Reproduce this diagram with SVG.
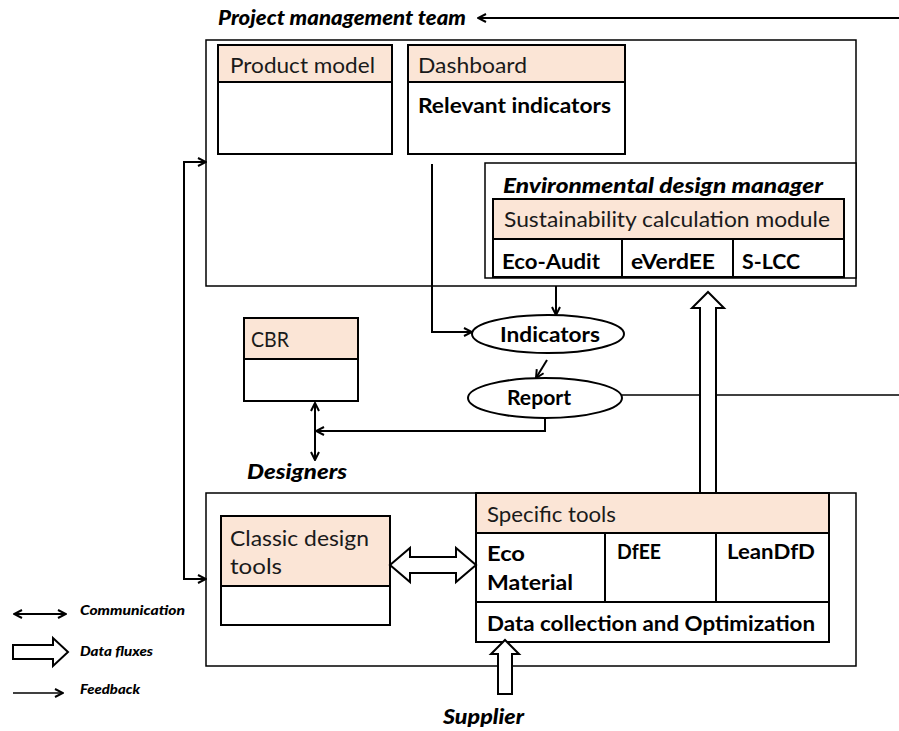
<svg xmlns="http://www.w3.org/2000/svg" width="899" height="731" viewBox="0 0 899 731">
  <style>
    .frame { fill: #ffffff; stroke: #000; stroke-width: 1.5; }
    .box { fill: #ffffff; stroke: #000; stroke-width: 2; }
    .head { fill: #fbe5d6; stroke: #000; stroke-width: 2; }
    .cell { fill: none; stroke: #000; stroke-width: 2; }
    .t { font-family: Lato, "Liberation Sans", sans-serif; font-size: 21px; fill: #1a1a1a; }
    .b { font-family: Lato, "Liberation Sans", sans-serif; font-size: 21px; font-weight: bold; fill: #000; }
    .bi { font-family: Lato, "Liberation Sans", sans-serif; font-size: 21px; font-weight: 900; font-style: italic; fill: #000; }
    .leg { font-family: Lato, "Liberation Sans", sans-serif; font-size: 13px; font-weight: 900; font-style: italic; fill: #000; }
    .line { fill: none; stroke: #000; stroke-width: 2; }
    .thin { fill: none; stroke: #000; stroke-width: 1.5; }
    .flux { fill: #ffffff; stroke: #000; stroke-width: 2; stroke-linejoin: miter; }
  </style>
  <defs>
    <marker id="open" viewBox="0 0 10 10" refX="9" refY="5" markerWidth="10" markerHeight="10" markerUnits="userSpaceOnUse" orient="auto-start-reverse">
      <path d="M1,1 L9,5 L1,9" fill="none" stroke="#000" stroke-width="2"/>
    </marker>
  </defs>

  <!-- Project management team -->
  <g id="pmt">
    <text class="bi" x="218" y="25" textLength="248" lengthAdjust="spacingAndGlyphs">Project management team</text>
    <rect class="frame" x="206" y="40" width="650" height="246"/>
  </g>

  <g id="product-model">
    <rect class="box" x="218" y="45" width="174" height="109"/>
    <rect class="head" x="218" y="45" width="174" height="37"/>
    <text class="t" x="230" y="73" textLength="145" lengthAdjust="spacingAndGlyphs">Product model</text>
  </g>

  <g id="dashboard">
    <rect class="box" x="408" y="45" width="217" height="109"/>
    <rect class="head" x="408" y="45" width="217" height="37"/>
    <text class="t" x="418" y="73" textLength="109" lengthAdjust="spacingAndGlyphs">Dashboard</text>
    <text class="b" x="418" y="113" textLength="193" lengthAdjust="spacingAndGlyphs">Relevant indicators</text>
  </g>

  <g id="env-manager">
    <rect class="frame" x="485" y="163" width="371" height="115"/>
    <text class="bi" x="503" y="193" font-size="20" textLength="320" lengthAdjust="spacingAndGlyphs">Environmental design manager</text>
  </g>

  <g id="sustainability-module">
    <rect class="box" x="493" y="199" width="351" height="78"/>
    <rect class="head" x="493" y="199" width="351" height="40"/>
    <line class="cell" x1="622" y1="239" x2="622" y2="277"/>
    <line class="cell" x1="733" y1="239" x2="733" y2="277"/>
    <text class="t" x="504" y="227" textLength="326" lengthAdjust="spacingAndGlyphs">Sustainability calculation module</text>
    <text class="b" x="502" y="269" textLength="98" lengthAdjust="spacingAndGlyphs">Eco-Audit</text>
    <text class="b" x="631" y="269" textLength="84" lengthAdjust="spacingAndGlyphs">eVerdEE</text>
    <text class="b" x="742" y="269" textLength="58" lengthAdjust="spacingAndGlyphs">S-LCC</text>
  </g>

  <g id="indicators">
    <ellipse class="box" cx="548" cy="334" rx="76" ry="19"/>
    <text class="b" x="550" y="342" text-anchor="middle" textLength="100" lengthAdjust="spacingAndGlyphs">Indicators</text>
  </g>

  <g id="report">
    <ellipse class="box" cx="545" cy="398" rx="77" ry="20"/>
    <text class="b" x="539" y="405" text-anchor="middle" textLength="64" lengthAdjust="spacingAndGlyphs">Report</text>
  </g>

  <g id="cbr">
    <rect class="box" x="244" y="318" width="114" height="83"/>
    <rect class="head" x="244" y="318" width="114" height="41"/>
    <text class="t" x="251" y="347" textLength="38" lengthAdjust="spacingAndGlyphs">CBR</text>
  </g>

  <!-- Designers -->
  <g id="designers">
    <text class="bi" x="247" y="479" textLength="100" lengthAdjust="spacingAndGlyphs">Designers</text>
    <rect class="frame" x="206" y="493" width="650" height="173"/>
  </g>

  <g id="classic-tools">
    <rect class="box" x="221" y="516" width="169" height="109"/>
    <rect class="head" x="221" y="516" width="169" height="70"/>
    <text class="t" x="230" y="546" textLength="139" lengthAdjust="spacingAndGlyphs">Classic design</text>
    <text class="t" x="230" y="574" textLength="52" lengthAdjust="spacingAndGlyphs">tools</text>
  </g>

  <g id="specific-tools">
    <rect class="box" x="476" y="493" width="353" height="149"/>
    <rect class="head" x="476" y="493" width="353" height="40"/>
    <line class="cell" x1="476" y1="602" x2="829" y2="602"/>
    <line class="cell" x1="605" y1="533" x2="605" y2="602"/>
    <line class="cell" x1="716" y1="533" x2="716" y2="602"/>
    <text class="t" x="487" y="522" textLength="129" lengthAdjust="spacingAndGlyphs">Specific tools</text>
    <text class="b" x="487" y="561" textLength="38" lengthAdjust="spacingAndGlyphs">Eco</text>
    <text class="b" x="487" y="590" textLength="86" lengthAdjust="spacingAndGlyphs">Material</text>
    <text class="b" x="617" y="559" textLength="44" lengthAdjust="spacingAndGlyphs">DfEE</text>
    <text class="b" x="727" y="559" textLength="88" lengthAdjust="spacingAndGlyphs">LeanDfD</text>
    <text class="b" x="487" y="631" textLength="328" lengthAdjust="spacingAndGlyphs">Data collection and Optimization</text>
  </g>

  <g id="supplier">
    <text class="bi" x="443" y="724" textLength="81" lengthAdjust="spacingAndGlyphs">Supplier</text>
  </g>

  <!-- Connectors -->
  <g id="connectors">
    <!-- feedback into the project management team -->
    <line class="line" x1="899" y1="18" x2="478" y2="18" marker-end="url(#open)"/>
    <!-- communication between the two teams -->
    <polyline class="line" points="206,162 184,162 184,579 206,579" marker-start="url(#open)" marker-end="url(#open)"/>
    <!-- dashboard to indicators -->
    <polyline class="line" points="432,164 432,332 472,332" marker-end="url(#open)"/>
    <!-- team frame to indicators -->
    <line class="line" x1="556" y1="286" x2="556" y2="315" marker-end="url(#open)"/>
    <!-- indicators to report -->
    <line class="line" x1="547" y1="360" x2="536" y2="378" marker-end="url(#open)"/>
    <!-- report feedback to the right -->
    <line class="thin" x1="622" y1="395" x2="899" y2="395"/>
    <!-- report to designers -->
    <polyline class="line" points="545,418 545,431 316,431" marker-end="url(#open)"/>
    <!-- CBR to designers -->
    <line class="line" x1="315" y1="403" x2="315" y2="460" marker-start="url(#open)" marker-end="url(#open)"/>
    <!-- data flux: specific tools up to environmental design manager -->
    <path class="flux" d="M700,492 L700,308 L692,308 L708,292 L724,308 L716,308 L716,492"/>
    <!-- data flux: classic tools <-> specific tools -->
    <path class="flux" d="M390,565 L410,548 L410,557 L456,557 L456,548 L476,565 L456,582 L456,573 L410,573 L410,582 Z"/>
    <!-- data flux: supplier into data collection -->
    <path class="flux" d="M498,694 L498,654 L491,654 L505,640 L519,654 L512,654 L512,694 Z"/>
  </g>

  <!-- Legend -->
  <g id="legend">
    <line class="line" x1="14" y1="614" x2="66" y2="614" marker-start="url(#open)" marker-end="url(#open)"/>
    <text class="leg" x="80" y="615" textLength="105" lengthAdjust="spacingAndGlyphs">Communication</text>
    <path class="flux" d="M13,645 L53,645 L53,638 L68,652 L53,666 L53,659 L13,659 Z"/>
    <text class="leg" x="80" y="656" textLength="73" lengthAdjust="spacingAndGlyphs">Data fluxes</text>
    <line class="thin" x1="13" y1="693" x2="63" y2="693" marker-end="url(#open)"/>
    <text class="leg" x="80" y="694" textLength="60" lengthAdjust="spacingAndGlyphs">Feedback</text>
  </g>
</svg>
